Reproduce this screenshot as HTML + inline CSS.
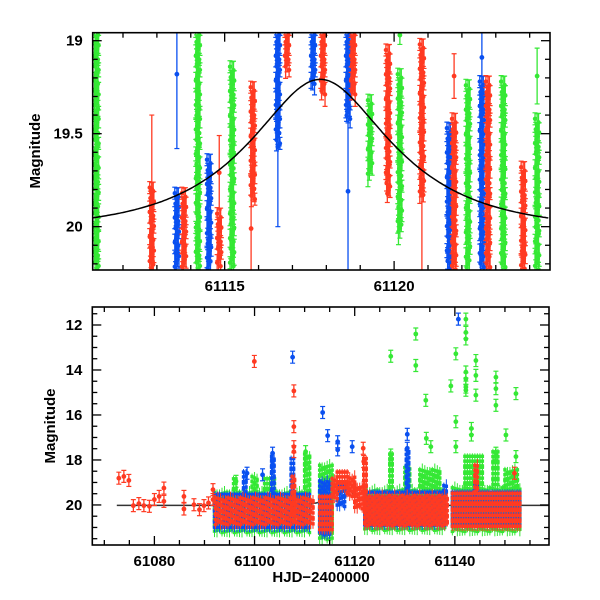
<!DOCTYPE html>
<html><head><meta charset="utf-8"><style>
body{margin:0;background:#fff;}
svg{display:block;font-family:"Liberation Sans",sans-serif;}
</style></head><body>
<svg id="chart" width="600" height="600" viewBox="0 0 600 600">
<g id="topPanel"></g>
<g id="botPanel"></g>
</svg>
<script>
// ---------- model ----------
const modelT0 = 61117.82, modelU0 = 0.52, modelTE = 3.55, modelBase = 20.02;
// ---------- top panel data: strips [time, color, magTop, magBottom] ----------
const topStripT = [61111.22,61112.85,61113.59,61113.80,61114.21,61114.54,61114.84,61115.22,61115.83,61116.57,61116.84,61117.61,61117.90,61118.64,61118.79,61119.29,61119.82,61120.17,61120.82,61121.62,61121.77,61122.18,61122.59,61122.77,61123.22,61123.81,61124.22];
const topStripC = ['g','r','b','r','g','b','r','g','r','b','r','b','r','b','r','g','r','g','r','b','r','g','b','r','g','r','g'];
const topStripTop = [18.95,19.79,19.82,19.82,18.95,19.64,19.93,19.14,19.25,18.95,18.95,18.95,18.95,18.95,18.95,19.32,19.05,19.18,19.02,19.47,19.42,19.24,19.22,19.22,19.22,19.68,19.42];
const topStripBot = [20.23,20.23,20.23,20.23,20.23,20.23,20.23,20.23,19.87,19.57,19.16,19.24,19.29,19.43,19.29,19.72,19.83,20.04,19.83,20.23,20.23,20.23,20.23,20.23,20.23,20.23,20.23];
// isolated points [time, color, mag, err]
const topPtT = [61112.85,61113.59,61114.84,61115.78,61116.57,61118.64,61120.82,61121.62,61121.77,61122.59,61124.22,61114.21,61120.17];
const topPtC = ['r','b','r','r','b','b','r','b','r','b','g','g','g'];
const topPtM = [19.80,19.18,19.71,20.01,19.57,19.81,19.83,19.90,19.19,19.09,19.19,19.22,18.97];
const topPtE = [0.40,0.40,0.20,0.28,0.43,1.50,0.45,0.40,0.12,0.20,0.15,0.10,0.05];
// ---------- bottom panel data ----------
const botPtT = [61072.9,61073.9,61074.9,61075.8,61076.9,61077.9,61079.0,61080.0,61080.95,61081.9,61081.9,61085.9,61085.9,61087.9,61089.0,61089.9,61090.8,61091.7,61091.7,
 61099.96,61107.6,61107.85,61107.85,61107.85,61107.85,61113.6,61114.6,61116.6,61116.6,61119.5,61103.6,61103.6,61121.7,61121.8,
 61127.2,61132.2,61132.2,61134.2,61134.3,61135.2,61130.5,61130.5,61139.2,61140.2,61140.2,61140.2,61140.7,
 61142.2,61142.2,61142.2,61142.2,61142.2,61142.2,61142.2,61144.2,61144.2,61144.2,61143.3,61143.3,61148.2,61148.2,61148.2,61152.2,61150.2,61148.2,61152.2,61110.2,61110.2,61127.2,61151.9,61096.3,61098.5,61101.6];
const botPtC = ['r','r','r','r','r','r','r','r','r','r','r','r','r','r','r','r','r','r','r',
 'r','b','r','r','r','r','b','b','b','b','b','b','b','r','r',
 'g','g','g','g','g','g','b','b','g','g','g','g','b',
 'g','g','g','g','g','g','g','g','g','g','g','g','g','g','g','g','g','g','g','g','g','g','r','g','b','b'];
const botPtM = [18.81,18.73,18.91,20.03,19.94,20.03,20.06,19.76,19.62,19.25,19.84,19.62,20.18,19.99,20.21,20.03,19.91,19.32,19.76,
 13.62,13.43,14.93,16.52,17.41,17.63,15.89,16.92,17.19,17.55,17.41,17.70,18.20,17.48,18.07,
 13.39,12.40,13.80,15.35,17.04,17.41,16.86,17.48,14.71,13.28,16.30,17.41,11.74,
 11.74,12.33,12.62,14.09,14.39,14.76,14.90,13.58,14.24,15.12,16.60,16.89,14.32,14.83,15.57,15.05,16.89,17.70,17.85,17.63,18.14,17.78,18.59,18.95,18.59,18.66];
// bands [tStart, tEnd, magTop, magBottom]
const bandC = ['g','g','g','g','g','g','g','g','g','g','g','g','g','g',
 'b','b','b','b','b','b','b','b','b','b','b',
 'r','r','r','r','r','r','r','r','r','r','r'];
const bandT1 = [61092,61095.8,61099.5,61110,61113,61122,61127,61130,61133,61139.5,61142,61147.6,61150,61102,
 61092,61097.8,61113,61116.5,61122,61139.5,61103.4,61130.3,61107.3,61137.8,61144,
 61092.2,61113,61115.5,61116.5,61118.5,61120,61122,61139.5,61107.5,61121.8,61144];
const bandT2 = [61111,61096.4,61100.5,61111,61115.5,61138,61127.6,61131,61137,61153,61145.5,61148.6,61152.5,61104,
 61111,61098.6,61115,61118,61138,61153,61104,61130.8,61107.9,61138.4,61144.6,
 61111.8,61115.5,61116.5,61118.5,61120,61122,61138.5,61153,61108.2,61122.5,61144.6];
const bandTop = [19.5,18.9,18.8,17.8,18.3,19.4,17.8,18.4,18.5,19.3,17.9,17.7,18.5,18.9,
 19.6,18.6,19.0,19.1,19.5,19.5,17.9,17.6,18.0,19.2,19.2,
 19.75,19.7,18.9,18.6,18.8,19.2,19.65,19.55,18.8,18.0,18.3];
const bandBot = [21.2,19.6,19.6,19.5,21.5,21.2,19.3,19.5,19.6,21.2,19.3,19.2,19.5,19.6,
 21.0,19.6,21.4,20.1,21.0,21.0,19.6,19.6,19.4,19.6,19.6,
 20.95,21.2,19.8,19.3,19.7,20.2,21.0,21.0,20.5,19.5,19.5];

const COL = {r:'#ff3a22', b:'#0a50f0', g:'#35e835'};
const NS = 'http://www.w3.org/2000/svg';
function mk(parent, tag, attrs){const e=document.createElementNS(NS,tag);for(const k in attrs)e.setAttribute(k,attrs[k]);parent.appendChild(e);return e;}
function paczM(t){const u=Math.sqrt(modelU0*modelU0+Math.pow((t-modelT0)/modelTE,2));const A=(u*u+2)/(u*Math.sqrt(u*u+4));return modelBase-2.5*Math.log10(A);}

function panel(g, L, R, T, B, xmin, xmax, ymin, ymax, xMinor, xMajor, yMinor, yMajor, ylabels, xlabels){
  const sx = t => L + (t - xmin) / (xmax - xmin) * (R - L);
  const sy = m => T + (m - ymin) / (ymax - ymin) * (B - T);
  const clip = 'c' + g.id;
  const defs = mk(g,'defs',{});
  const cp = mk(defs,'clipPath',{id:clip});
  mk(cp,'rect',{x:L,y:T,width:R-L,height:B-T});
  const data = mk(g,'g',{'clip-path':'url(#'+clip+')'});
  
  
  return {sx, sy, data, finish(){
    const ax = mk(g,'g',{stroke:'#000','stroke-width':1.3,fill:'none'});
    
    
    mk(ax,'rect',{x:L,y:T,width:R-L,height:B-T,'stroke-width':1.6});
    for(let k=Math.ceil(xmin/xMinor);k*xMinor<=xmax;k++){
      const t=k*xMinor;
      const maj = Math.abs(t/xMajor-Math.round(t/xMajor))<1e-6; const len = maj?9:5; const x=sx(t);
      mk(ax,'line',{x1:x,x2:x,y1:B,y2:B-len}); mk(ax,'line',{x1:x,x2:x,y1:T,y2:T+len});
    }
    for(let k=Math.ceil(ymin/yMinor-1e-6);k*yMinor<=ymax+1e-9;k++){
      const m=k*yMinor; const maj=Math.abs(m/yMajor-Math.round(m/yMajor))<1e-6; const len=maj?9:5; const y=sy(m);
      mk(ax,'line',{x1:L,x2:L+len,y1:y,y2:y}); mk(ax,'line',{x1:R,x2:R-len,y1:y,y2:y});
    }
    ylabels.forEach(v=>{const tx=mk(g,'text',{x:L-10,y:sy(v)+5,'text-anchor':'end','font-size':15,'font-weight':'bold'});tx.textContent=String(v);
      });
    xlabels.forEach(v=>{const tx=mk(g,'text',{x:sx(v),y:B+21,'text-anchor':'middle','font-size':15,'font-weight':'bold'});tx.textContent=String(v);
      });
  }};
}
function errPt(par, x, y, ey1, ey2, col, r){
  mk(par,'line',{x1:x,x2:x,y1:ey1,y2:ey2,stroke:col,'stroke-width':1.3});
  mk(par,'line',{x1:x-2.5,x2:x+2.5,y1:ey1,y2:ey1,stroke:col,'stroke-width':1.2});
  mk(par,'line',{x1:x-2.5,x2:x+2.5,y1:ey2,y2:ey2,stroke:col,'stroke-width':1.2});
  mk(par,'circle',{cx:x,cy:y,r:r,fill:col});
}

// ---------- TOP ----------
const topG = document.getElementById('topPanel');
const P1 = panel(topG, 92.7, 550, 32.7, 270, 61111.106, 61124.6, 18.957, 20.233, 1, 5, 0.1, 0.5, [19,19.5,20], [61115,61120]);
let d='';
for(let t=61111.1;t<=61124.6;t+=0.05){d+=(d?'L':'M')+P1.sx(t).toFixed(1)+','+P1.sy(paczM(t)).toFixed(1);}
topStripT.forEach((t,i)=>{
  const g = mk(P1.data,'g',{});
  
  
  const x0=P1.sx(t), y1=P1.sy(topStripTop[i]), y2=P1.sy(topStripBot[i]), col=COL[topStripC[i]];
  let k=0;
  for(let y=y1;y<=y2;y+=3.5,k++){
    const x = x0 + ((k*5)%7-3)*0.7;
    const e = 6 + (k*3)%8;
    errPt(g, x, y, y-e, y+e, col, 2.2);
  }
});
topPtT.forEach((t,i)=>{
  const g = mk(P1.data,'g',{});
  
  
  errPt(g, P1.sx(t), P1.sy(topPtM[i]), P1.sy(topPtM[i]-topPtE[i]), P1.sy(topPtM[i]+topPtE[i]), COL[topPtC[i]], 2.4);
});
const c1 = mk(P1.data,'path',{d:d,fill:'none',stroke:'#000','stroke-width':1.5});


P1.finish();
const yl1 = mk(topG,'text',{x:0,y:0,transform:'translate(40,151) rotate(-90)','text-anchor':'middle','font-size':15,'font-weight':'bold'});
yl1.textContent='Magnitude';



// ---------- BOTTOM ----------
const botG = document.getElementById('botPanel');
const P2 = panel(botG, 92.3, 549, 307, 545, 61067.6, 61158.8, 11.2, 21.78, 5, 20, 0.5, 2, [12,14,16,18,20], [61080,61100,61120,61140]);
let d2='';
for(let t=61072.5;t<=61158.8;t+=0.1){d2+=(d2?'L':'M')+P2.sx(t).toFixed(1)+','+P2.sy(paczM(t)).toFixed(1);}
const c2 = mk(P2.data,'path',{d:d2,fill:'none',stroke:'#333','stroke-width':1.5});


['g','b','r'].forEach(cc=>{
  bandC.forEach((c,i)=>{
    if(c!==cc) return;
    const g = mk(P2.data,'g',{});
    
    
    const x1=P2.sx(bandT1[i]), x2=P2.sx(bandT2[i]), y1=P2.sy(bandTop[i]), y2=P2.sy(bandBot[i]), col=COL[c];
    let k=0;
    for(let x=x1;x<=x2;x+=2.5){
      for(let y=y1;y<=y2;y+=3.4,k++){
        const yy = y + ((k*7)%5-2)*0.7;
        const e = 3 + (k*3)%5;
        mk(g,'line',{x1:x,x2:x,y1:yy-e,y2:yy+e,stroke:col,'stroke-width':1});
        mk(g,'rect',{x:x-1.7,y:yy-1.7,width:3.4,height:3.4,fill:col});
      }
    }
  });
  botPtT.forEach((t,i)=>{
    if(botPtC[i]!==cc) return;
    const g = mk(P2.data,'g',{});
    
    
    const y=P2.sy(botPtM[i]);
    errPt(g, P2.sx(t), y, y-6, y+6, COL[cc], 2.4);
  });
});
P2.finish();
const yl2 = mk(botG,'text',{x:0,y:0,transform:'translate(55,426) rotate(-90)','text-anchor':'middle','font-size':15,'font-weight':'bold'});
yl2.textContent='Magnitude';


const xl2 = mk(botG,'text',{x:321,y:582,'text-anchor':'middle','font-size':15,'font-weight':'bold'});
xl2.textContent='HJD\u22122400000';


</script>
</body></html>
